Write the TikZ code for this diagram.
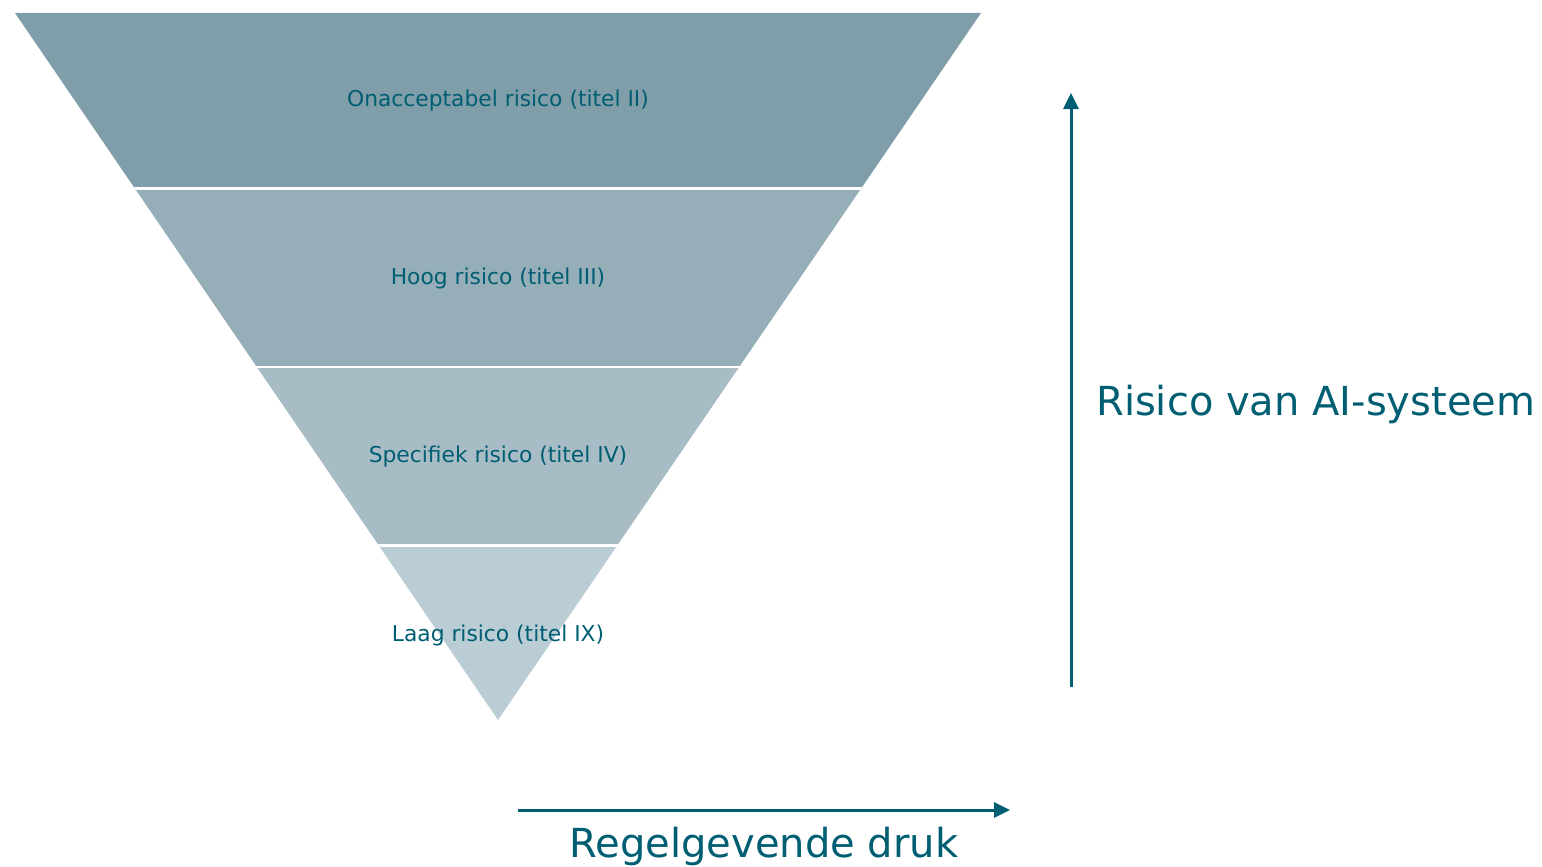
\documentclass[tikz,border=0pt]{standalone}
\usepackage{fontspec}
\setmainfont{DejaVu Sans}
\usetikzlibrary{arrows.meta}
\definecolor{bandA}{HTML}{809EA9}
\definecolor{bandB}{HTML}{96AEB8}
\definecolor{bandC}{HTML}{A8BCC6}
\definecolor{bandD}{HTML}{BACCD4}
\definecolor{teal}{HTML}{005E72}
\tikzset{
  tierlabel/.style={text=teal, font=\fontsize{21.8}{26}\selectfont, inner sep=0pt},
  axislabel/.style={text=teal, font=\fontsize{40}{48}\selectfont, inner sep=0pt},
  axisarrow/.style={draw=teal, line width=3pt, -{Triangle[length=16pt,width=15pt]}},
  gap/.style={draw=white, line width=2.6pt}
}
\begin{document}
\begin{tikzpicture}[x=1pt,y=-1pt]
\useasboundingbox (0,0) rectangle (1542,867);
% inverted pyramid, cut into four risk tiers
\begin{scope}
  \clip (15,13) -- (981,13) -- (498,720) -- cycle;
  \fill[bandA] (0,0) rectangle (1000,188.5);
  \fill[bandB] (0,188.5) rectangle (1000,367);
  \fill[bandC] (0,367) rectangle (1000,545.5);
  \fill[bandD] (0,545.5) rectangle (1000,730);
  \draw[gap] (0,188.5) -- (1000,188.5);
  \draw[gap] (0,367) -- (1000,367);
  \draw[gap] (0,545.5) -- (1000,545.5);
\end{scope}
\node[tierlabel] (t1) at (498,100) {Onacceptabel risico (titel II)};
\node[tierlabel] (t2) at (498,278) {Hoog risico (titel III)};
\node[tierlabel] (t3) at (498,456) {Specifiek risico (titel IV)};
\node[tierlabel] (t4) at (498,635) {Laag risico (titel IX)};
% axes
\coordinate (vlow) at (1071,687);
\coordinate (vhigh) at (1071,93);
\draw[axisarrow] (vlow) -- (vhigh);
\node[axislabel, anchor=west] (risk) at (1096,404) {Risico van AI-systeem};
\coordinate (hlow) at (518,810);
\coordinate (hhigh) at (1010,810);
\draw[axisarrow] (hlow) -- (hhigh);
\node[axislabel] (press) at (764,846) {Regelgevende druk};
\end{tikzpicture}
\end{document}
